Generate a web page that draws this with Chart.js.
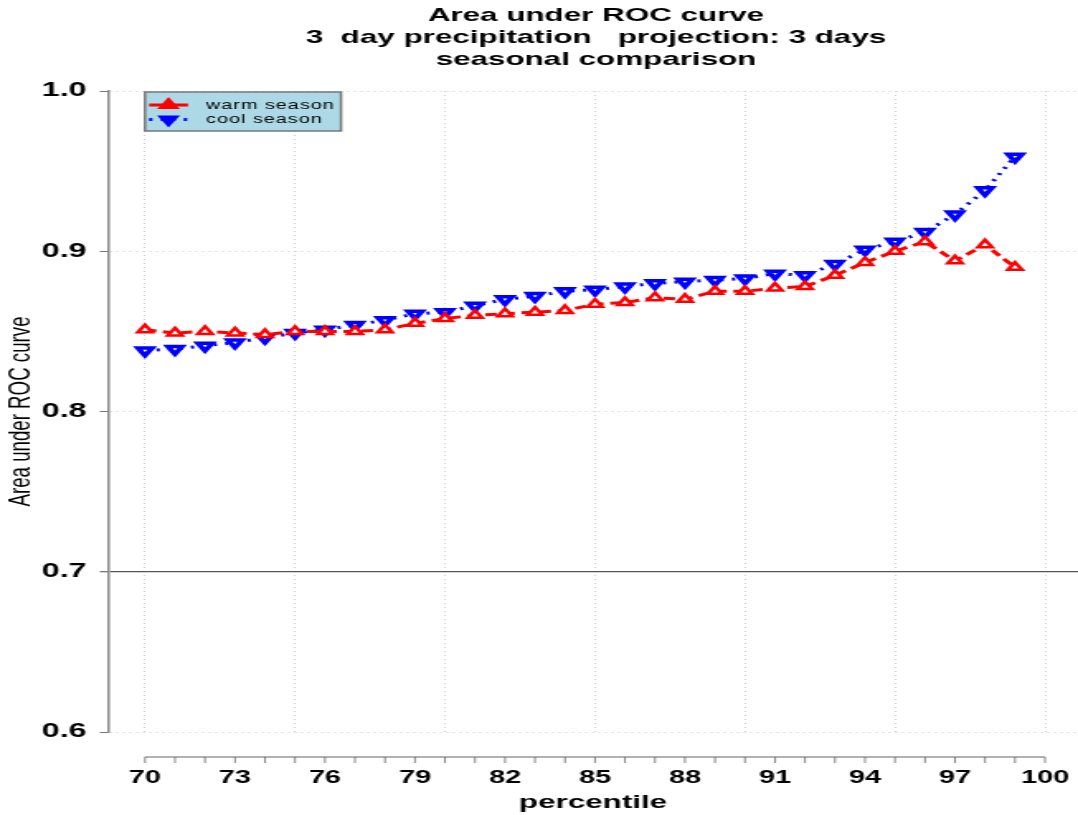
<!DOCTYPE html>
<html><head><meta charset="utf-8">
<script src="https://cdn.jsdelivr.net/npm/chart.js@4"></script>
<style>
html,body{margin:0;padding:0;background:#fff;overflow:hidden;width:1078px;height:815px;}
#wrap{position:absolute;left:0;top:0;width:653px;height:815px;transform:scaleX(1.65084);transform-origin:0 0;}
canvas{display:block;}
</style></head><body>
<div id="wrap"><canvas id="c" width="653" height="815"></canvas></div>
<script>
// ---- data ----
const percentiles = [70,71,72,73,74,75,76,77,78,79,80,81,82,83,84,85,86,87,88,89,90,91,92,93,94,95,96,97,98,99];
const warmSeason = [0.851,0.849,0.850,0.849,0.848,0.850,0.850,0.850,0.851,0.855,0.858,0.860,0.861,0.862,0.863,0.867,0.868,0.871,0.870,0.875,0.875,0.877,0.878,0.885,0.893,0.900,0.906,0.894,0.904,0.890];
const coolSeason = [0.838,0.839,0.841,0.843,0.846,0.849,0.851,0.854,0.857,0.861,0.862,0.866,0.870,0.872,0.875,0.876,0.878,0.880,0.881,0.882,0.883,0.886,0.885,0.892,0.901,0.906,0.912,0.923,0.938,0.959];
const xTickLabels = [70,73,76,79,82,85,88,91,94,97,100];
const yTickLabels = [0.6,0.7,0.8,0.9,1.0];
const seriesNames = ['warm season','cool season'];
const titleLines = ['Area under ROC curve','3  day precipitation   projection: 3 days','seasonal comparison'];
const xTitle = 'percentile';
const yTitle = 'Area under ROC curve';
const refLine = 0.7;

// ---- layout constants ----
const S = 1078/653;            // horizontal stretch of the picture
const xMin = 68.767, xMax = 101.1;
const yMin = 0.6, yMax = 1.0;
const axisStart = xTickLabels[0], axisEnd = xTickLabels[xTickLabels.length-1];

const minorTicks = [];
for (let v = axisStart; v <= axisEnd; v++) minorTicks.push(v);

const isRef = v => Math.abs(v - refLine) < 1e-6;

const decorPlugin = {
  id: 'decor',
  afterDraw(chart) {
    const {ctx, chartArea, scales} = chart;
    const x = scales.x;
    ctx.save();
    // title
    ctx.fillStyle = '#000';
    ctx.font = 'bold 19px "Liberation Sans", Arial, sans-serif';
    ctx.textAlign = 'center';
    ctx.textBaseline = 'middle';
    const cx = 596 / S;
    [16, 38, 60].forEach((yy, i) => ctx.fillText(titleLines[i], cx, yy));
    // detached x axis line with minor ticks
    const yl = chartArea.bottom + 25;
    ctx.strokeStyle = '#666';
    ctx.lineWidth = 1.2;
    ctx.beginPath();
    ctx.moveTo(x.getPixelForValue(axisStart), yl);
    ctx.lineTo(x.getPixelForValue(axisEnd), yl);
    ctx.stroke();
    ctx.lineWidth = 0.8;
    ctx.beginPath();
    minorTicks.forEach(v => {
      const px = x.getPixelForValue(v);
      ctx.moveTo(px, yl); ctx.lineTo(px, yl + 6);
    });
    ctx.stroke();
    // legend
    const bx = x.getPixelForValue(70), by = chartArea.top + 1;
    const bw = 196 / S, bh = 39;
    ctx.fillStyle = '#add8e6';
    ctx.fillRect(bx, by, bw, bh);
    ctx.strokeStyle = '#777';
    ctx.lineWidth = 1.5;
    ctx.strokeRect(bx, by, bw, bh);
    const rows = [by + 13, by + 27.5];
    chart.data.datasets.forEach((ds, i) => {
      const yy = rows[i];
      const x0 = bx + 2.5, x1 = bx + 43/S;
      ctx.strokeStyle = ds.borderColor;
      ctx.lineWidth = 3;
      ctx.setLineDash(i === 0 ? [] : ds.borderDash);
      ctx.beginPath(); ctx.moveTo(x0, yy); ctx.lineTo(x1, yy); ctx.stroke();
      ctx.setLineDash([]);
      Chart.helpers.drawPoint(ctx, {
        pointStyle: 'triangle', radius: ds.pointRadius, rotation: ds.pointRotation,
        borderWidth: ds.pointBorderWidth
      }, (x0 + x1) / 2, yy);
      ctx.fillStyle = ds.borderColor;
      ctx.fill();
      ctx.fillStyle = '#000';
      ctx.font = '12px "Liberation Sans", Arial, sans-serif';
      ctx.letterSpacing = '0.6px';
      ctx.textAlign = 'left';
      ctx.fillText(ds.label, bx + 37, yy + 0.5);
      ctx.letterSpacing = '0px';
    });
    ctx.restore();
  }
};

new Chart(document.getElementById('c'), {
  type: 'line',
  data: {
    datasets: [
      {
        label: seriesNames[0],
        data: percentiles.map((p, i) => ({x: p, y: warmSeason[i]})),
        borderColor: '#ff0000',
        borderWidth: 3,
        borderDash: [7, 4],
        pointStyle: 'triangle',
        pointRadius: 5,
        pointRotation: 0,
        pointBorderWidth: 2.5,
        pointBackgroundColor: '#ffffff',
        pointBorderColor: '#ff0000',
        tension: 0
      },
      {
        label: seriesNames[1],
        data: percentiles.map((p, i) => ({x: p, y: coolSeason[i]})),
        borderColor: '#0000ff',
        borderWidth: 3,
        borderDash: [2, 5],
        pointStyle: 'triangle',
        pointRadius: 5,
        pointRotation: 180,
        pointBorderWidth: 3.5,
        pointBackgroundColor: '#ffffff',
        pointBorderColor: '#0000ff',
        tension: 0
      }
    ]
  },
  options: {
    responsive: false,
    animation: false,
    devicePixelRatio: 1,
    layout: { autoPadding: false, padding: { top: 91, left: 0, right: 0, bottom: 0 } },
    plugins: { legend: { display: false }, title: { display: false }, tooltip: { enabled: false } },
    scales: {
      x: {
        type: 'linear',
        min: xMin, max: xMax,
        afterBuildTicks: s => { s.ticks = minorTicks.map(v => ({value: v})); },
        afterFit: s => { s.height = 83; s.paddingLeft = 0; s.paddingRight = 0; },
        ticks: {
          autoSkip: false, maxRotation: 0, minRotation: 0,
          padding: 36,
          color: '#000',
          font: { family: '"Liberation Sans", Arial, sans-serif', weight: 'bold', size: 17.5 },
          callback: v => xTickLabels.includes(v) ? String(v) : ''
        },
        grid: {
          drawTicks: false,
          color: c => (c.tick && c.tick.value % 5 === 0) ? '#cfcfcf' : 'rgba(0,0,0,0)',
          lineWidth: 1
        },
        border: { display: false, dash: [1, 3] },
        title: {
          display: true, text: xTitle, color: '#000',
          font: { family: '"Liberation Sans", Arial, sans-serif', weight: 'bold', size: 19 },
          padding: { top: 0, bottom: 1 }
        }
      },
      y: {
        type: 'linear',
        min: yMin, max: yMax,
        afterBuildTicks: s => { s.ticks = yTickLabels.map(v => ({value: v})); },
        afterFit: s => { s.width = 108 / S; s.paddingTop = 0; s.paddingBottom = 0; },
        ticks: {
          padding: 8,
          color: '#000',
          font: { family: '"Liberation Sans", Arial, sans-serif', weight: 'bold', size: 19.5 },
          callback: v => Number(v).toFixed(1)
        },
        grid: {
          drawTicks: true, tickLength: 5, tickColor: '#777',
          color: c => (c.tick && isRef(c.tick.value)) ? '#555' : '#cfcfcf',
          lineWidth: c => (c.tick && isRef(c.tick.value)) ? 1.3 : 1
        },
        border: {
          display: true, color: '#888', width: 1.5,
          dash: c => (c.tick && !isRef(c.tick.value)) ? [1, 3] : []
        },
        title: {
          display: true, text: yTitle, color: '#000',
          font: { family: '"Liberation Sans", Arial, sans-serif', weight: 'normal', size: 18.7 },
          padding: { top: 2, bottom: 0 }
        }
      }
    }
  },
  plugins: [decorPlugin]
});
</script>
</body></html>
